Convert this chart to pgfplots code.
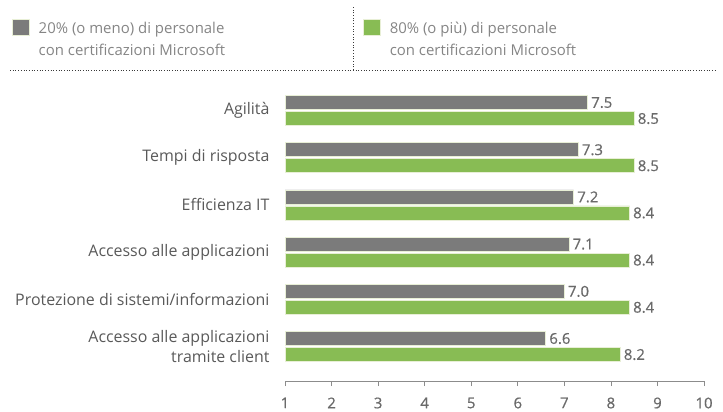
\documentclass[border=0pt]{standalone}
\usepackage{pgfplots}
\pgfplotsset{compat=1.18}
\usepackage{fontspec}
\setmainfont{Open Sans}
\newfontfamily\semib{Open Sans}[FakeBold=0.6]
\definecolor{bargray}{HTML}{7B7B7B}
\definecolor{bargreen}{HTML}{88BC54}
\definecolor{barborder}{HTML}{E8EFD6}
\definecolor{txtgray}{HTML}{595959}
\definecolor{lblgray}{HTML}{6A6A6A}
\definecolor{leggray}{HTML}{858585}
\definecolor{axgray}{HTML}{8C8C8C}
\definecolor{dotgray}{HTML}{3A3A3A}
\begin{document}
\begin{tikzpicture}
\useasboundingbox (0,0) rectangle (723bp,412bp);
\draw[dotgray, line width=0.9bp, dash pattern=on 0.9bp off 1.8bp] (10bp,342bp) -- (716bp,342bp);
\draw[dotgray, line width=0.9bp, dash pattern=on 0.9bp off 1.8bp] (353bp,342bp) -- (353bp,406bp);
\begin{axis}[
  at={(285bp,31bp)}, anchor=south west,
  x=46.56bp, y=47.2bp,
  xmin=1, xmax=10, ymin=-0.73, ymax=5.75,
  xbar, bar width=14bp,
  axis lines*=left,
  y axis line style={draw=none},
  ytick style={draw=none},
  x axis line style={axgray, line width=0.8bp},
  xtick style={axgray, line width=0.8bp},
  xtick align=outside, major tick length=5bp,
  xtick={1,...,10},
  ytick={0,...,5},
  yticklabels={{Accesso alle applicazioni\\tramite client},{Protezione di sistemi/informazioni},{Accesso alle applicazioni},{Efficienza IT},{Tempi di risposta},{Agilità}},
  yticklabel style={align=right, font=\fontsize{16}{21}\selectfont, text=txtgray, xshift=-7bp},
  xticklabel style={font=\semib\fontsize{15}{17}\selectfont, text=lblgray, yshift=-8bp},
  /pgf/number format/assume math mode=true,
  nodes near coords={\pgfmathprintnumber[fixed,fixed zerofill,precision=1,assume math mode=true]{\pgfplotspointmeta}},
  nodes near coords style={anchor=west, font=\semib\fontsize{15}{17}\selectfont, text=lblgray, xshift=0bp},
  legend style={at={(-0.6516,1.183)}, anchor=north west, draw=none, fill=none,
    legend columns=2, inner sep=0pt, font=\fontsize{15}{22.5}\selectfont, text=leggray,
    cells={align=left, anchor=north west},
    /tikz/every even column/.append style={column sep=136bp},
    /tikz/every odd column/.append style={column sep=7bp}},
  legend image code/.code={\fill[#1] (0bp,-16bp) rectangle (17bp,0bp);},
  clip=true,
]
\addplot[fill=bargray, draw=barborder, line width=0.6bp, bar shift=8bp] coordinates {(7.5,5) (7.3,4) (7.2,3) (7.1,2) (7.0,1) (6.6,0)};
\addlegendentry{20\% (o meno) di personale\\con certificazioni Microsoft}
\addplot[fill=bargreen, draw=barborder, line width=0.6bp, bar shift=-8bp] coordinates {(8.5,5) (8.5,4) (8.4,3) (8.4,2) (8.4,1) (8.2,0)};
\addlegendentry{80\% (o più) di personale\\con certificazioni Microsoft}
\end{axis}
\end{tikzpicture}
\end{document}
